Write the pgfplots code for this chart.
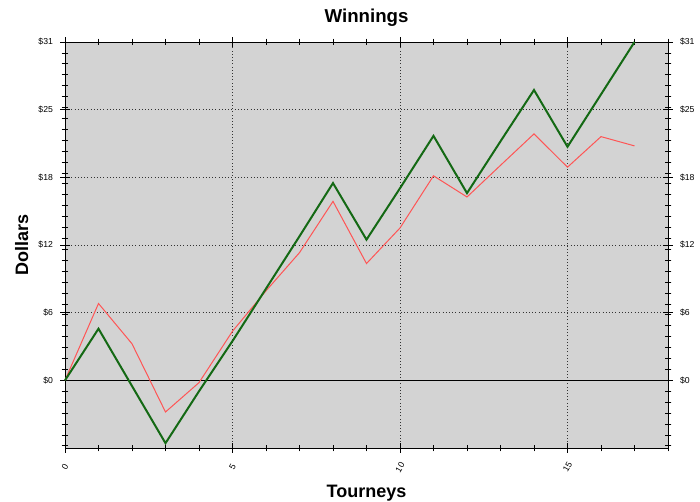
\documentclass[border=0pt]{standalone}
\usepackage{pgfplots}
\pgfplotsset{compat=1.18}
\usepackage{fontspec}
\setmainfont{Liberation Sans}
\definecolor{bggray}{RGB}{211,211,211}
\definecolor{dgreen}{RGB}{20,105,20}
\definecolor{lred}{RGB}{255,85,85}
\begin{document}
\begin{tikzpicture}[x=1pt,y=1pt]
\useasboundingbox (-48.75pt,-39.75pt) rectangle (476.25pt,336pt);
\begin{axis}[
  at={(0,0)}, anchor=south west,
  scale only axis, width=452.25pt, height=304.5pt,
  xmin=0, xmax=18, ymin=-6.2, ymax=31,
  axis background/.style={fill=bggray},
  xtick={0,5,10,15},
  minor xtick={0,...,18},
  ytick={0,6.2,12.4,18.6,24.8,31},
  yticklabels={\$0,\$6,\$12,\$18,\$25,\$31},
  minor ytick={-6,...,31},
  tick align=center,
  major tick length=7pt,
  minor tick length=5pt,
  tick style={black, line width=0.6pt},
  every tick label/.append style={font=\fontsize{6.5}{7}\selectfont},
  /pgf/number format/assume math mode=true,
  xticklabel style={rotate=60, anchor=center},
  xticklabel shift=11pt,
  yticklabel style={xshift=-2pt},
  ymajorgrids, xmajorgrids,
  grid style={dotted, black!80, line width=0.6pt},
  axis line style={black, line width=0.6pt},
  yticklabel pos=left,
  title={\bfseries Winnings},
  title style={font=\fontsize{14}{16}\selectfont\bfseries, at={(0.5,1)}, anchor=center, yshift=12pt},
  xlabel={\bfseries Tourneys},
  ylabel={\bfseries Dollars},
  xlabel style={font=\fontsize{13.5}{15}\selectfont\bfseries, at={(0.5,0)}, anchor=center, yshift=-34pt},
  ylabel style={font=\fontsize{13.5}{15}\selectfont\bfseries, at={(0,0.5)}, anchor=center, yshift=32.5pt},
  clip=false,
]
\draw[black, line width=0.7pt] (axis cs:0,0) -- (axis cs:18,0);
\addplot[lred, line width=0.75pt, mark=none] coordinates {
(0,0) (1,7.04) (2,3.35) (3,-2.9) (4,-0.21) (5,4.5) (6,8.2) (7,11.7) (8,16.4)
(9,10.7) (10,13.96) (11,18.74) (12,16.8) (13,19.7) (14,22.58) (15,19.53)
(16,22.33) (17,21.48)};
\addplot[dgreen, line width=1.5pt, mark=none] coordinates {
(0,0) (1,4.73) (2,-0.52) (3,-5.76) (4,-1.0) (5,3.6) (6,8.4) (7,13.2) (8,18.07)
(9,12.89) (10,17.6) (11,22.4) (12,17.15) (13,21.9) (14,26.6) (15,21.4)
(16,26.2) (17,31.0)};
\end{axis}
\begin{axis}[
  at={(0,0)}, anchor=south west,
  scale only axis, width=452.25pt, height=304.5pt,
  xmin=0, xmax=18, ymin=-6.2, ymax=31,
  axis x line=none,
  xtick=\empty,
  axis y line*=right,
  ytick={0,6.2,12.4,18.6,24.8,31},
  yticklabels={\$0,\$6,\$12,\$18,\$25,\$31},
  minor ytick={-6,...,31},
  tick align=center,
  major tick length=7pt,
  minor tick length=5pt,
  tick style={black, line width=0.6pt},
  every tick label/.append style={font=\fontsize{6.5}{7}\selectfont},
  yticklabel style={xshift=2pt},
  axis line style={black, line width=0.6pt},
]
\addplot[draw=none] coordinates {(0,0)};
\end{axis}
\end{tikzpicture}
\end{document}
